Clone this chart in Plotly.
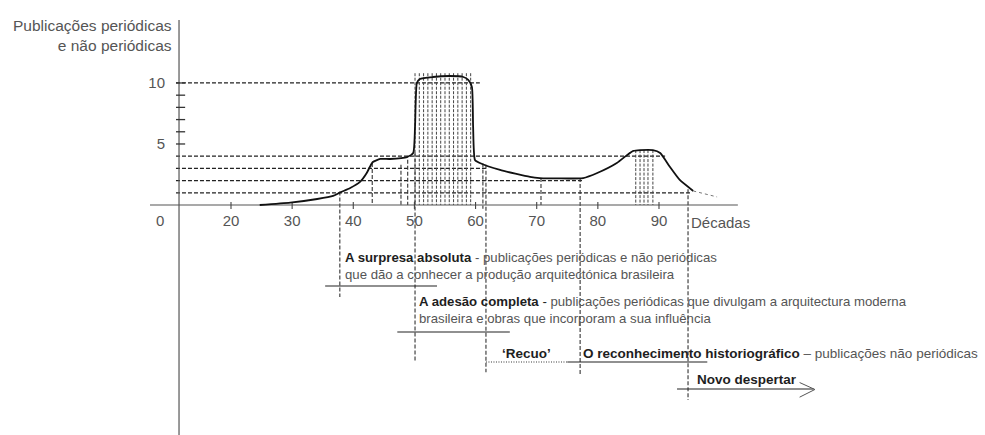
import plotly.graph_objects as go

# ---- data -------------------------------------------------------------
# publication curve (decade, number of publications)
curve_x = [24.7, 29.7, 34.1, 36.7, 37.8, 39.5, 41.1, 42.2, 42.7, 43.2, 44.4, 46.0,
           48.8, 49.8, 50.1, 50.4, 50.9, 53.0, 55.8, 58.0, 58.8, 59.4, 59.6, 59.9,
           60.7, 64.0, 68.9, 70.5, 77.6, 79.9, 83.1, 84.8, 85.8, 86.9, 89.0, 90.2,
           91.8, 93.4, 95.6]
curve_y = [0.0, 0.19, 0.49, 0.74, 1.02, 1.39, 1.89, 2.62, 3.11, 3.52, 3.77, 3.77,
           3.93, 4.26, 6.4, 10.0, 10.33, 10.49, 10.57, 10.49, 10.25, 9.67, 6.4, 3.69,
           3.44, 2.87, 2.30, 2.21, 2.21, 2.62, 3.44, 4.10, 4.43, 4.5, 4.5, 4.26,
           3.11, 2.05, 1.15]
tail_x = [95.6, 99.5]
tail_y = [1.15, 0.66]

# horizontal reference levels and where each one stops
level_y = [10, 4, 3, 2, 1]
level_end = [60.7, 91.0, 61.9, 77.6, 95.1]

# hatching under the two peaks
hatch_x = [50.1, 50.8, 51.5, 52.2, 52.9, 53.6, 54.3, 55.0, 55.7, 56.4, 57.1, 57.8, 58.5, 59.2]
hatch_top = 10.8
peak_x = [86.2, 86.9, 87.55, 88.2, 89.0]
peak_top = 4.5

# period boundaries (decade, top, bottom)
guide_x = [37.8, 43.1, 47.8, 48.9, 50.1, 61.2, 61.7, 70.7, 77.1, 94.75]
guide_top = [1.1, 3.44, 3.3, 3.7, 4.3, 3.4, 3.3, 2.21, 2.21, 1.3]
guide_bottom = [-7.54, 0, 0, 0, -12.87, -0.3, -13.7, 0, -13.93, -15.98]

x_ticks = [20, 30, 40, 50, 60, 70, 80, 90]
x_ticklabels = ["20", "30", "40", "50", "60", "70", "80", "90"]
y_ticks_major = [5, 10]
y_ticks_minor = [6, 7, 8, 9]

AXIS_X = 11.5          # where the vertical axis crosses
ORIGIN_LABEL_X = 8.4   # "0" label position

FONT = "Liberation Sans, Arial, sans-serif"
DARK = "#1e1e1e"
GREY = "#555555"


def segments(xs0, ys0, xs1, ys1):
    xs, ys = [], []
    for a, b, c, d in zip(xs0, ys0, xs1, ys1):
        xs += [a, c, None]
        ys += [b, d, None]
    return xs, ys


fig = go.Figure()

# horizontal dashed levels
hx, hy = segments([11.0] * len(level_y), level_y, level_end, level_y)
fig.add_trace(go.Scatter(x=hx, y=hy, mode="lines",
                         line=dict(color="#222", width=1.3, dash="4px,2px")))

# hatching
hx, hy = segments(hatch_x, [hatch_top] * len(hatch_x), hatch_x, [0] * len(hatch_x))
fig.add_trace(go.Scatter(x=hx, y=hy, mode="lines",
                         line=dict(color="#444", width=1, dash="3px,1.5px")))
hx, hy = segments(peak_x, [peak_top] * len(peak_x), peak_x, [0] * len(peak_x))
fig.add_trace(go.Scatter(x=hx, y=hy, mode="lines",
                         line=dict(color="#444", width=1, dash="3px,1.5px")))

# period boundaries
gx, gy = segments(guide_x, guide_top, guide_x, guide_bottom)
fig.add_trace(go.Scatter(x=gx, y=gy, mode="lines",
                         line=dict(color="#333", width=1.1, dash="4px,2px")))

# axes drawn as lines
fig.add_trace(go.Scatter(x=[6.75, 102.9], y=[0, 0], mode="lines",
                         line=dict(color="#555", width=1.2)))
fig.add_trace(go.Scatter(x=[AXIS_X, AXIS_X], y=[15.16, -18.85], mode="lines",
                         line=dict(color="#555", width=1.2)))
tx, ty = segments(x_ticks, [0.25] * len(x_ticks), x_ticks, [-0.33] * len(x_ticks))
fig.add_trace(go.Scatter(x=tx, y=ty, mode="lines", line=dict(color="#444", width=1.1)))
yt = y_ticks_major + y_ticks_minor
tx, ty = segments([11.0] * len(yt), yt, [12.5] * len(yt), yt)
fig.add_trace(go.Scatter(x=tx, y=ty, mode="lines", line=dict(color="#333", width=1.3)))

# the curve
fig.add_trace(go.Scatter(x=curve_x, y=curve_y, mode="lines",
                         line=dict(color="#111", width=1.8, shape="spline", smoothing=0.5)))
fig.add_trace(go.Scatter(x=tail_x, y=tail_y, mode="lines",
                         line=dict(color="#777", width=1, dash="dot")))

# underlines of the period captions
ux, uy = segments([35.4, 47.2, 75.0, 92.95], [-6.64, -10.41, -12.87, -15.08],
                  [53.7, 65.6, 97.9, 115.3], [-6.64, -10.41, -12.87, -15.08])
fig.add_trace(go.Scatter(x=ux, y=uy, mode="lines", line=dict(color="#222", width=1.1)))
fig.add_trace(go.Scatter(x=[61.7, 75.0], y=[-12.87, -12.87], mode="lines",
                         line=dict(color="#333", width=1.1, dash="1px,1.5px")))
# arrow head of "Novo despertar"
fig.add_trace(go.Scatter(x=[113.0, 115.5, 113.0], y=[-14.55, -15.12, -15.75], mode="lines",
                         line=dict(color="#555", width=1)))

annotations = []


def label(x, y, text, size=13.5, color=DARK, xanchor="left"):
    annotations.append(dict(x=x, y=y, xref="x", yref="y", text=text, showarrow=False,
                            xanchor=xanchor, yanchor="middle", align="left",
                            font=dict(family=FONT, size=size, color=color)))


def reg(t):
    return f'<span style="color:{GREY}">{t}</span>'


annotations.append(dict(x=10.6, y=13.9, xref="x", yref="y", showarrow=False,
                        text="Publicações periódicas<br>e não periódicas",
                        xanchor="right", yanchor="middle", align="right",
                        font=dict(family=FONT, size=15.5, color=GREY)))
label(94.9, -1.45, "Décadas", size=15, color=GREY)

label(38.3, -4.96, "<b>A surpresa absoluta</b>" + reg(" - publicações periódicas e não periódicas")
      + "<br>" + reg("que dão a conhecer a produção arquitectónica brasileira"), size=13.2)
label(50.4, -8.57, "<b>A adesão completa</b> - "
      + reg("publicações periódicas que divulgam a arquitectura moderna")
      + "<br>" + reg("brasileira e obras que incorporam a sua influência"), size=13.2)
label(64.0, -12.13, "<b>‘Recuo’</b>")
label(77.3, -12.13, "<b>O reconhecimento historiográfico</b>" + reg(" – publicações não periódicas"))
label(95.9, -14.34, "<b>Novo despertar</b>")

fig.update_layout(
    width=985, height=435,
    margin=dict(l=0, r=0, t=0, b=0),
    paper_bgcolor="white", plot_bgcolor="white",
    showlegend=False,
    annotations=annotations,
    xaxis=dict(range=[-17.78, 143.32], showgrid=False, zeroline=False, showline=False,
               anchor="free", position=(435 - 205) / 435,
               tickmode="array", tickvals=[ORIGIN_LABEL_X] + x_ticks,
               ticktext=["0"] + x_ticklabels, ticks="", ticklabelstandoff=5,
               tickfont=dict(family=FONT, size=15, color=GREY)),
    yaxis=dict(range=[-18.85, 16.80], showgrid=False, zeroline=False, showline=False,
               anchor="free", position=179 / 985,
               tickmode="array", tickvals=y_ticks_major, ticktext=["5", "10"],
               ticks="", ticklabelstandoff=14,
               tickfont=dict(family=FONT, size=15, color=GREY)),
)

fig.write_html("out.html")
